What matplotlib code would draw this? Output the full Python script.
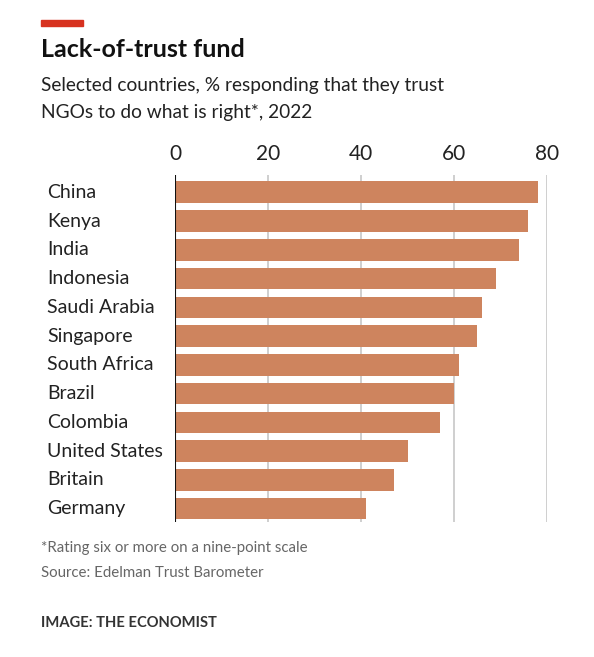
import matplotlib.pyplot as plt
import matplotlib.patches as patches
import matplotlib.transforms as mtransforms
import numpy as np

countries = ["China", "Kenya", "India", "Indonesia", "Saudi Arabia", "Singapore",
             "South Africa", "Brazil", "Colombia", "United States", "Britain", "Germany"]
trust = [78, 76, 74, 69, 66, 65, 61, 60, 57, 50, 47, 41]
xticks = [0, 20, 40, 60, 80]

plt.rcParams["font.family"] = ["Lato", "DejaVu Sans"]

W, H = 594, 657
fig = plt.figure(figsize=(W / 100, H / 100), dpi=100)
fig.patch.set_facecolor("white")


def fx(px):
    return px / W


def fy(px):
    return 1 - px / H


# axes box in pixels
left, right, top, bottom = 175, 547, 175, 521.6
ax = fig.add_axes([fx(left), fy(bottom), fx(right - left), (bottom - top) / H])

y = np.arange(len(countries))
ax.barh(y, trust, height=0.75, color="#CE845E", zorder=2)
ax.set_xlim(0, 80)
ax.set_ylim(len(countries) - 1 + 0.45, -0.6)

ax.set_xticks(xticks)
ax.xaxis.tick_top()
ax.tick_params(axis="x", length=0, pad=8, labelsize=15, labelcolor="#222222")
ax.set_yticks([])
for s in ax.spines.values():
    s.set_visible(False)
ax.grid(axis="x", color="#cfcfcf", linewidth=1.4, zorder=0)
ax.axvline(0, color="#111111", linewidth=1.5, zorder=3)

# country labels, left aligned at a fixed figure x
label_tr = mtransforms.blended_transform_factory(fig.transFigure, ax.transData)
for yi, name in zip(y, countries):
    ax.text(fx(47), yi, name, transform=label_tr,
            ha="left", va="center", fontsize=14, color="#222222")

# red tag
fig.patches.append(patches.Rectangle((fx(41), fy(26)), fx(42), 6 / H, transform=fig.transFigure,
                                     color="#D7321F", zorder=5))

fig.text(fx(41), fy(57), "Lack-of-trust fund", fontsize=18, fontweight="bold",
         color="#111111", va="baseline")
fig.text(fx(41), fy(90.5), "Selected countries, % responding that they trust",
         fontsize=13.8, color="#222222", va="baseline")
fig.text(fx(41), fy(118), "NGOs to do what is right*, 2022",
         fontsize=13.8, color="#222222", va="baseline")

fig.text(fx(41), fy(552), "*Rating six or more on a nine-point scale",
         fontsize=10.8, color="#666666", va="baseline")
fig.text(fx(41), fy(577), "Source: Edelman Trust Barometer",
         fontsize=10.8, color="#666666", va="baseline")
fig.text(fx(41), fy(627), "IMAGE: THE ECONOMIST",
         fontsize=10.6, fontweight="bold", color="#333333", va="baseline")

fig.savefig("out.png", dpi=100, facecolor="white")
